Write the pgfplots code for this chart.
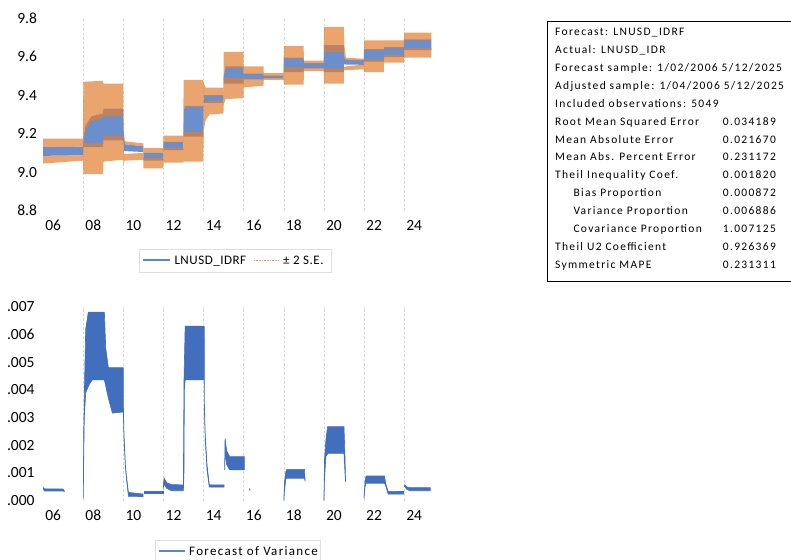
\documentclass[border=0pt]{standalone}
\usepackage{fontspec}
\setmainfont{Carlito}
\newfontfamily\tabfont[LetterSpace=11.5]{Carlito}
\newfontfamily\legfont[LetterSpace=10]{Carlito}
\newfontfamily\legfonttop[LetterSpace=4]{Carlito}
\usepackage{pgfplots}
\pgfplotsset{compat=1.18}
\definecolor{bandblue}{RGB}{106,143,204}
\definecolor{bandorange}{RGB}{225,126,49}
\definecolor{varblue}{RGB}{66,110,190}
\definecolor{legblue}{RGB}{91,134,204}
\definecolor{legorange}{RGB}{237,150,90}
\definecolor{gridgray}{RGB}{215,215,215}
\definecolor{legframe}{RGB}{222,222,222}
\pgfplotsset{
  evstyle/.style={
    scale only axis, width=388.2bp,
    xmin=2006, xmax=2025.36,
    axis line style={draw=none}, major tick length=0pt,
    xtick={2006.5,2008.5,2010.5,2012.5,2014.5,2016.5,2018.5,2020.5,2022.5,2024.5},
    xticklabels={06,08,10,12,14,16,18,20,22,24},
    extra x ticks={2008,2010,2012,2014,2016,2018,2020,2022,2024},
    extra x tick labels={,,,,,,,,},
    extra x tick style={grid=major},
    major grid style={gridgray, line width=0.6bp, dash pattern=on 2.5bp off 2bp},
    tick label style={font=\fontsize{15.5bp}{18bp}\selectfont},
    xticklabel style={anchor=north, inner sep=0pt, yshift=-9.5bp},
    scaled y ticks=false,
  }
}
\begin{document}
\begin{tikzpicture}[x=1bp,y=1bp]
\useasboundingbox (0,0) rectangle (791,560);
% ---------- top panel ----------
\begin{axis}[evstyle, at={(43.2bp,349.3bp)}, anchor=south west, height=192.4bp,
  ymin=8.8, ymax=9.8,
  ytick={8.8,9.0,9.2,9.4,9.6,9.8}, yticklabels={8.8,9.0,9.2,9.4,9.6,9.8},
  yticklabel style={anchor=east, inner sep=0pt, xshift=-6bp},
]
% forecast LNUSD_IDRF band
\addplot[draw=none, fill=bandblue] coordinates {
(2006.00,9.130) (2007.99,9.133)
(2008.00,9.17) (2008.10,9.24) (2008.40,9.29) (2008.99,9.305)
(2009.00,9.33) (2009.99,9.33)
(2010.02,9.20) (2010.08,9.145) (2010.99,9.135)
(2011.00,9.10) (2011.99,9.10)
(2012.00,9.158) (2012.99,9.158)
(2013.00,9.30) (2013.05,9.345) (2013.99,9.345)
(2014.00,9.40) (2014.99,9.40)
(2015.00,9.50) (2015.10,9.55) (2015.99,9.55)
(2016.00,9.512) (2016.99,9.512)
(2017.00,9.502) (2017.99,9.502)
(2018.00,9.595) (2018.99,9.595)
(2019.00,9.567) (2019.99,9.567)
(2020.00,9.66) (2020.99,9.66)
(2021.00,9.60) (2021.08,9.585) (2021.99,9.582)
(2022.00,9.64) (2022.99,9.64)
(2023.00,9.65) (2023.99,9.65)
(2024.00,9.69) (2025.36,9.69)
(2025.36,9.635) (2024.00,9.635)
(2023.99,9.60) (2023.00,9.60)
(2022.99,9.575) (2022.00,9.575)
(2021.99,9.558) (2021.00,9.56)
(2020.99,9.52) (2020.00,9.52)
(2019.99,9.54) (2019.00,9.54)
(2018.99,9.52) (2018.00,9.52)
(2017.99,9.488) (2017.00,9.488)
(2016.99,9.482) (2016.00,9.482)
(2015.99,9.46) (2015.00,9.46)
(2014.99,9.36) (2014.00,9.36)
(2013.99,9.185) (2013.00,9.185)
(2012.99,9.115) (2012.00,9.115)
(2011.99,9.06) (2011.00,9.06)
(2010.99,9.105) (2010.03,9.11)
(2009.99,9.165) (2009.00,9.165)
(2008.99,9.13) (2008.00,9.13)
(2007.99,9.088) (2006.00,9.085)
} -- cycle;
% upper +2 S.E. band
\addplot[draw=none, fill=bandorange, fill opacity=0.7] coordinates {
(2006.00,9.175) (2007.99,9.175)
(2008.00,9.47) (2008.99,9.475)
(2009.00,9.46) (2009.99,9.46)
(2010.01,9.18) (2010.10,9.16) (2010.99,9.15)
(2011.00,9.125) (2011.99,9.125)
(2012.00,9.19) (2012.99,9.19)
(2013.00,9.48) (2013.99,9.48)
(2014.00,9.465) (2014.10,9.44) (2014.99,9.44)
(2015.00,9.625) (2015.99,9.625)
(2016.00,9.55) (2016.99,9.55)
(2017.00,9.515) (2017.99,9.515)
(2018.00,9.655) (2018.99,9.655)
(2019.00,9.58) (2019.99,9.58)
(2020.00,9.755) (2020.99,9.755)
(2021.02,9.66) (2021.10,9.595) (2021.99,9.59)
(2022.00,9.685) (2022.99,9.685)
(2023.00,9.685) (2023.99,9.685)
(2024.00,9.725) (2025.36,9.725)
(2025.36,9.685) (2024.00,9.685)
(2023.99,9.645) (2023.00,9.645)
(2022.99,9.635) (2022.00,9.635)
(2021.99,9.58) (2021.08,9.583) (2021.00,9.60)
(2020.99,9.625) (2020.00,9.625)
(2019.99,9.565) (2019.00,9.565)
(2018.99,9.59) (2018.00,9.59)
(2017.99,9.50) (2017.00,9.50)
(2016.99,9.51) (2016.00,9.51)
(2015.99,9.54) (2015.10,9.54) (2015.00,9.49)
(2014.99,9.395) (2014.00,9.395)
(2013.99,9.34) (2013.05,9.34) (2013.00,9.30)
(2012.99,9.155) (2012.00,9.155)
(2011.99,9.10) (2011.00,9.10)
(2010.99,9.135) (2010.08,9.145) (2010.02,9.20)
(2009.99,9.29) (2009.00,9.29)
(2008.99,9.28) (2008.40,9.265) (2008.10,9.215) (2008.00,9.15)
(2007.99,9.133) (2006.00,9.13)
} -- cycle;
% lower -2 S.E. band
\addplot[draw=none, fill=bandorange, fill opacity=0.7] coordinates {
(2006.00,9.085) (2007.99,9.088)
(2008.00,9.15) (2008.99,9.15)
(2009.00,9.19) (2009.99,9.19)
(2010.03,9.095) (2010.99,9.10)
(2011.00,9.075) (2011.99,9.075)
(2012.00,9.125) (2012.99,9.125)
(2013.00,9.21) (2013.99,9.21)
(2014.00,9.37) (2014.99,9.37)
(2015.00,9.49) (2015.99,9.49)
(2016.00,9.485) (2016.99,9.485)
(2017.00,9.49) (2017.99,9.49)
(2018.00,9.545) (2018.99,9.545)
(2019.00,9.542) (2019.99,9.542)
(2020.00,9.54) (2020.99,9.54)
(2021.00,9.545) (2021.10,9.55) (2021.99,9.56)
(2022.00,9.585) (2022.99,9.585)
(2023.00,9.61) (2023.99,9.61)
(2024.00,9.645) (2025.36,9.645)
(2025.36,9.595) (2024.00,9.595)
(2023.99,9.57) (2023.00,9.57)
(2022.99,9.52) (2022.00,9.52)
(2021.99,9.535) (2021.00,9.53)
(2020.99,9.46) (2020.00,9.46)
(2019.99,9.525) (2019.00,9.525)
(2018.99,9.455) (2018.00,9.455)
(2017.99,9.48) (2017.00,9.48)
(2016.99,9.45) (2016.00,9.44)
(2015.99,9.385) (2015.10,9.38) (2015.00,9.35)
(2014.99,9.305) (2014.30,9.30) (2014.10,9.27) (2014.00,9.21)
(2013.99,9.055) (2013.00,9.055)
(2012.99,9.05) (2012.00,9.05)
(2011.99,9.02) (2011.00,9.02)
(2010.99,9.065) (2010.05,9.06) (2010.02,9.03)
(2009.99,9.065) (2009.00,9.055)
(2008.99,8.99) (2008.00,8.99)
(2007.99,9.06) (2006.00,9.045)
} -- cycle;
\end{axis}
% ---------- bottom panel ----------
\begin{axis}[evstyle, at={(43.2bp,59.3bp)}, anchor=south west, height=194bp,
  ymin=0, ymax=0.007,
  ytick={0,0.001,0.002,0.003,0.004,0.005,0.006,0.007},
  yticklabels={.000,.001,.002,.003,.004,.005,.006,.007},
  yticklabel style={anchor=east, inner sep=0pt, xshift=-8.5bp},
]
\addplot[varblue, line width=0.6bp, fill=varblue] coordinates {
(2006.00,0.00048) (2006.05,0.00043) (2007.00,0.00042) (2007.05,0.00036)
(2007.05,0.00033) (2007.00,0.00035) (2006.05,0.00035) (2006.00,0.00044)
} -- cycle;
\addplot[varblue, line width=0.6bp, fill=varblue] coordinates {
(2008.00,0.00020) (2008.02,0.0025) (2008.07,0.0045) (2008.12,0.0062) (2008.25,0.0068)
(2009.05,0.0068) (2009.12,0.0055) (2009.25,0.0048) (2009.99,0.0048)
(2010.00,0.0034) (2010.03,0.0024) (2010.10,0.0013) (2010.15,0.0009) (2010.25,0.0003) (2010.98,0.00024)
(2010.98,0.00015) (2010.25,0.00016) (2010.15,0.0008) (2010.10,0.0012) (2010.03,0.0022)
(2010.00,0.0030) (2009.99,0.0032) (2009.45,0.00316) (2009.25,0.0037) (2009.05,0.00436)
(2008.45,0.00436) (2008.30,0.0042) (2008.12,0.0039) (2008.05,0.0030) (2008.02,0.0015) (2008.00,0.00010)
} -- cycle;
\addplot[varblue, line width=0.6bp, fill=varblue] coordinates {
(2011.05,0.00035) (2011.99,0.00035) (2011.99,0.00027) (2011.05,0.00027)
} -- cycle;
\addplot[varblue, line width=0.6bp, fill=varblue] coordinates {
(2012.00,0.0006) (2012.03,0.00082) (2012.15,0.00065) (2012.40,0.00058) (2012.99,0.00057)
(2013.02,0.0043) (2013.08,0.0063) (2014.03,0.0063) (2014.04,0.0035) (2014.08,0.0024)
(2014.17,0.0013) (2014.28,0.0006) (2014.32,0.00057) (2015.02,0.00057)
(2015.02,0.00049) (2014.32,0.00049) (2014.28,0.0005) (2014.17,0.0011) (2014.08,0.0022)
(2014.04,0.0032) (2014.03,0.00436) (2013.08,0.00436) (2013.04,0.0040) (2013.02,0.0010)
(2012.99,0.00036) (2012.40,0.00036) (2012.15,0.00045) (2012.03,0.0006) (2012.00,0.00050)
} -- cycle;
\addplot[varblue, line width=0.6bp, fill=varblue] coordinates {
(2015.05,0.0012) (2015.07,0.00225) (2015.15,0.0018) (2015.30,0.00159) (2016.03,0.00159)
(2016.03,0.00111) (2015.30,0.00111) (2015.15,0.0013) (2015.07,0.0017) (2015.05,0.0011)
} -- cycle;
\addplot[varblue, line width=0.9bp] coordinates {
(2016.28,0.00044) (2016.31,0.00037)
};
\addplot[varblue, line width=0.6bp, fill=varblue] coordinates {
(2018.00,0.00005) (2018.04,0.0007) (2018.10,0.00105) (2018.15,0.00113) (2019.03,0.00113) (2019.06,0.00075)
(2019.06,0.0007) (2019.03,0.00081) (2018.15,0.00081) (2018.10,0.00078) (2018.04,0.0004) (2018.00,0.0)
} -- cycle;
\addplot[varblue, line width=0.6bp, fill=varblue] coordinates {
(2020.00,0.0001) (2020.03,0.0015) (2020.10,0.0022) (2020.18,0.00267) (2021.00,0.00267)
(2021.05,0.0016) (2021.08,0.0007)
(2021.08,0.00068) (2021.05,0.0010) (2021.00,0.00171) (2020.20,0.00171) (2020.10,0.0016)
(2020.03,0.0008) (2020.00,0.0)
} -- cycle;
\addplot[varblue, line width=0.6bp, fill=varblue] coordinates {
(2022.00,0.00015) (2022.05,0.0007) (2022.10,0.00089) (2023.02,0.00089) (2023.08,0.00062)
(2023.20,0.00034) (2023.99,0.00033)
(2023.99,0.00024) (2023.20,0.00024) (2023.08,0.00055) (2023.02,0.00063) (2022.10,0.00063)
(2022.05,0.0005) (2022.00,0.0001)
} -- cycle;
\addplot[varblue, line width=0.6bp, fill=varblue] coordinates {
(2024.03,0.00057) (2024.15,0.00049) (2024.30,0.00047) (2025.30,0.00047)
(2025.30,0.00036) (2024.30,0.00036) (2024.15,0.0004) (2024.03,0.00050)
} -- cycle;
\end{axis}
% ---------- legends ----------
\begin{scope}[every node/.style={anchor=base west, inner sep=0pt}]
\draw[legframe, line width=0.8bp] (139,311) rectangle (331.7,287.7);
\draw[legblue, line width=1.3bp] (143.3,300) -- (170,300);
\node[font=\legfonttop\fontsize{13bp}{15bp}\selectfont] at (174.3,295.6) {LNUSD\_IDRF};
\draw[legorange, line width=0.9bp, dash pattern=on 0.8bp off 0.8bp] (254,300) -- (278.3,300);
\node[font=\legfonttop\fontsize{13bp}{15bp}\selectfont] at (283,295.6) {± 2 S.E.};
\draw[legframe, line width=0.8bp] (155,19.7) rectangle (320,-3);
\draw[legblue, line width=1.3bp] (159,9) -- (185,9);
\node[font=\legfont\fontsize{13bp}{15bp}\selectfont] at (189,4.6) {Forecast of Variance};
\end{scope}
% ---------- statistics box ----------
\draw[black, line width=0.8bp] (547.3,538.3) rectangle (820,278.3);
\begin{scope}[every node/.style={anchor=base west, inner sep=0pt, font=\tabfont\fontsize{11.5bp}{13bp}\selectfont}]
\node at (555,524.0) {Forecast: LNUSD\_IDRF};
\node at (555,506.15) {Actual: LNUSD\_IDR};
\node at (555,488.3) {Forecast sample: 1/02/2006 5/12/2025};
\node at (555,470.45) {Adjusted sample: 1/04/2006 5/12/2025};
\node at (555,452.6) {Included observations: 5049};
\node at (555,434.75) {Root Mean Squared Error};
\node at (555,416.9) {Mean Absolute Error};
\node at (555,399.05) {Mean Abs. Percent Error};
\node at (555,381.2) {Theil Inequality Coef.};
\node at (573.3,363.35) {Bias Proportion};
\node at (573.3,345.5) {Variance Proportion};
\node at (573.3,327.65) {Covariance Proportion};
\node at (555,309.8) {Theil U2 Coefficient};
\node at (555,291.95) {Symmetric MAPE};
\node at (722.7,434.75) {0.034189};
\node at (722.7,416.9) {0.021670};
\node at (722.7,399.05) {0.231172};
\node at (722.7,381.2) {0.001820};
\node at (722.7,363.35) {0.000872};
\node at (722.7,345.5) {0.006886};
\node at (722.7,327.65) {1.007125};
\node at (722.7,309.8) {0.926369};
\node at (722.7,291.95) {0.231311};
\end{scope}
\end{tikzpicture}
\end{document}
